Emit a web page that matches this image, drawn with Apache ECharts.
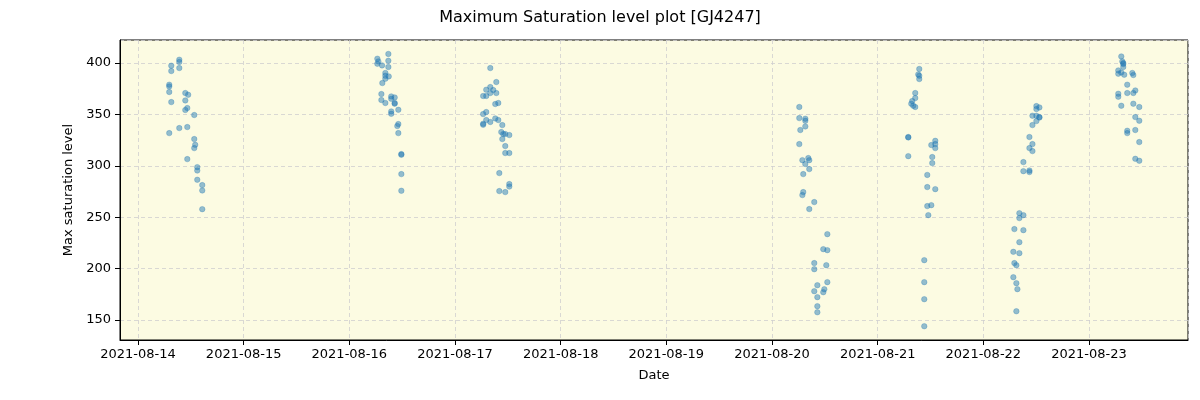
<!DOCTYPE html>
<html>
<head>
<meta charset="utf-8">
<script src="https://cdn.jsdelivr.net/npm/echarts@6/dist/echarts.min.js"></script>
<style>
  html, body { margin: 0; padding: 0; background: #fff; }
  #chart { width: 1200px; height: 400px; }
</style>
</head>
<body>
<div id="chart"></div>
<script>
// one entry per observing night
const nightDates = ['2021-08-14', '2021-08-16', '2021-08-17', '2021-08-20', '2021-08-21', '2021-08-22', '2021-08-23'];

const nightTimes = [
  ['07:06', '07:06', '07:06', '07:06', '07:34', '07:34', '07:34', '09:23', '09:23', '09:23', '09:23', '10:45', '10:45', '10:45',
   '11:12', '11:12', '11:12', '11:24', '12:47', '12:47', '12:47', '13:00', '13:28', '13:28', '13:28', '14:36', '14:36', '14:36'],
  ['06:22', '06:22', '06:36', '07:26', '07:30', '07:17', '07:17', '08:11', '08:11', '08:11', '08:11', '08:52', '08:52', '08:52',
   '08:57', '09:31', '09:31', '09:31', '09:31', '10:18', '10:18', '10:18', '11:08', '10:54', '11:08', '11:08', '11:49', '11:49',
   '11:49', '11:49'],
  ['08:01', '09:23', '08:01', '07:06', '08:41', '09:23', '08:01', '06:24', '07:06', '09:09', '09:50', '07:06', '06:24', '06:24',
   '06:24', '07:06', '08:01', '09:09', '09:50', '10:45', '10:31', '10:58', '11:25', '12:20', '10:45', '11:25', '11:25', '12:20',
   '10:04', '12:20', '12:20', '10:04', '11:25'],
  ['06:12', '06:12', '07:34', '07:34', '07:34', '06:26', '06:12', '08:15', '06:54', '08:28', '07:34', '08:28', '07:06', '07:06',
   '06:54', '09:36', '08:28', '12:34', '11:39', '12:34', '12:20', '09:36', '09:36', '12:34', '10:18', '09:36', '11:53', '11:39',
   '10:18', '10:18', '10:18'],
  ['09:27', '09:13', '09:27', '09:27', '08:32', '08:32', '07:51', '07:38', '08:05', '08:32', '06:57', '06:57', '06:57', '12:11',
   '13:05', '13:05', '13:05', '12:24', '12:24', '11:16', '11:16', '13:05', '11:16', '12:11', '11:30', '10:35', '10:35', '10:35',
   '10:35'],
  ['12:03', '12:44', '12:03', '11:09', '12:03', '12:44', '12:44', '12:03', '11:09', '10:28', '11:09', '10:28', '11:09', '09:06',
   '09:06', '10:28', '10:28', '08:11', '09:06', '08:11', '07:03', '09:06', '08:11', '06:49', '08:11', '07:03', '07:30', '06:49',
   '07:30', '07:44', '07:30'],
  ['07:20', '07:34', '07:47', '07:47', '07:47', '06:39', '07:20', '06:39', '08:00', '09:50', '10:04', '08:41', '10:31', '10:04',
   '08:41', '06:39', '06:39', '07:20', '10:04', '11:25', '10:31', '11:25', '08:41', '08:41', '10:31', '11:25', '10:31', '11:25']
];

const nightLevels = [
  [378.9, 377.2, 371.8, 331.8, 397.4, 392.2, 362.0, 403.2, 401.0, 395.1, 336.7, 370.8, 363.6, 354.3,
   356.2, 337.7, 306.5, 369.1, 349.4, 326.0, 317.2, 320.4, 298.7, 295.4, 286.4, 281.2, 276.0, 257.8],
  [404.2, 399.3, 401.6, 397.7, 380.5, 369.8, 364.0, 390.3, 387.6, 384.7, 361.1, 408.8, 402.2, 396.1,
   387.0, 367.5, 365.2, 352.9, 350.6, 366.5, 361.1, 360.4, 354.5, 338.7, 340.6, 331.8, 311.4, 310.7,
   291.9, 275.7],
  [395.1, 381.5, 376.6, 374.0, 373.7, 370.8, 370.8, 367.9, 367.9, 360.1, 361.1, 352.3, 350.3, 340.9,
   339.9, 344.5, 342.6, 346.1, 344.5, 339.6, 332.8, 330.9, 330.9, 329.9, 326.0, 319.2, 312.4, 312.4,
   292.9, 282.2, 279.8, 275.4, 274.4],
  [357.2, 346.4, 345.8, 343.8, 338.3, 334.8, 321.1, 307.5, 305.5, 305.5, 301.7, 296.8, 291.9, 274.4,
   271.5, 264.7, 257.9, 233.5, 218.9, 217.9, 203.3, 205.3, 199.4, 186.8, 183.8, 178.0, 179.9, 177.0,
   172.2, 163.4, 157.5],
  [394.2, 388.9, 387.6, 384.4, 370.8, 365.9, 363.0, 360.4, 358.4, 357.2, 328.0, 327.6, 309.4, 320.2,
   324.3, 321.1, 317.2, 308.5, 302.6, 291.1, 279.3, 277.3, 260.8, 261.7, 252.0, 208.2, 186.8, 170.2,
   143.9],
  [358.1, 356.8, 355.2, 348.7, 348.7, 347.4, 346.9, 343.5, 339.6, 328.0, 321.1, 317.2, 314.3, 303.6,
   294.8, 295.4, 293.9, 253.9, 252.0, 249.1, 238.4, 237.4, 225.7, 216.3, 215.0, 205.3, 203.3, 191.6,
   185.8, 180.0, 158.5],
  [406.4, 401.6, 400.0, 399.0, 396.1, 392.8, 390.8, 389.6, 388.6, 390.3, 388.3, 378.9, 373.3, 370.8,
   370.8, 370.1, 367.2, 358.4, 360.4, 357.2, 347.4, 343.8, 334.1, 331.8, 334.8, 323.1, 306.8, 304.9]
];

const xRange = ['2021-08-13 19:55', '2021-08-23 22:29'];
const yRange = [130.5, 422.4];

// flatten the nights into [time, level] pairs
const points = [];
nightDates.forEach((d, i) => {
  nightTimes[i].forEach((t, j) => {
    points.push([d + ' ' + t, nightLevels[i][j]]);
  });
});

const chart = echarts.init(document.getElementById('chart'));
const font = 'DejaVu Sans';

chart.setOption({
  animation: false,
  title: {
    text: 'Maximum Saturation level plot [GJ4247]',
    left: 'center',
    top: 5,
    textStyle: { fontFamily: font, fontSize: 16, fontWeight: 'normal', color: '#000' }
  },
  grid: {
    left: 120, right: 12, top: 40, bottom: 60,
    show: true,
    backgroundColor: '#fcfbe2',
    borderColor: '#000',
    borderWidth: 1
  },
  xAxis: {
    type: 'time',
    min: xRange[0],
    max: xRange[1],
    minInterval: 86400000,
    maxInterval: 86400000,
    name: 'Date',
    nameLocation: 'middle',
    nameGap: 29,
    nameTextStyle: { fontFamily: font, fontSize: 13, color: '#000' },
    axisLine: { lineStyle: { color: '#000' } },
    axisTick: { length: 5, lineStyle: { color: '#000' } },
    axisLabel: {
      fontFamily: font, fontSize: 13, color: '#000', margin: 8,
      showMinLabel: false, showMaxLabel: false,
      formatter: '{yyyy}-{MM}-{dd}'
    },
    splitLine: { show: true, lineStyle: { color: '#cfcfcf', type: [4, 3], width: 0.8 } }
  },
  yAxis: {
    type: 'value',
    min: yRange[0],
    max: yRange[1],
    splitNumber: 5,
    name: 'Max saturation level',
    nameLocation: 'middle',
    nameGap: 42,
    nameTextStyle: { fontFamily: font, fontSize: 13, color: '#000' },
    axisLine: { show: true, lineStyle: { color: '#000' } },
    axisTick: { show: true, length: 5, lineStyle: { color: '#000' } },
    axisLabel: {
      fontFamily: font, fontSize: 13, color: '#000', margin: 9,
      showMinLabel: false, showMaxLabel: false
    },
    splitLine: { show: true, lineStyle: { color: '#cfcfcf', type: [4, 3], width: 0.8 } }
  },
  series: [{
    type: 'scatter',
    data: points,
    symbolSize: 5.5,
    itemStyle: { color: 'rgba(31,119,180,0.6)', borderColor: 'rgba(31,119,180,0.7)', borderWidth: 0.5 }
  }]
});
</script>
</body>
</html>
